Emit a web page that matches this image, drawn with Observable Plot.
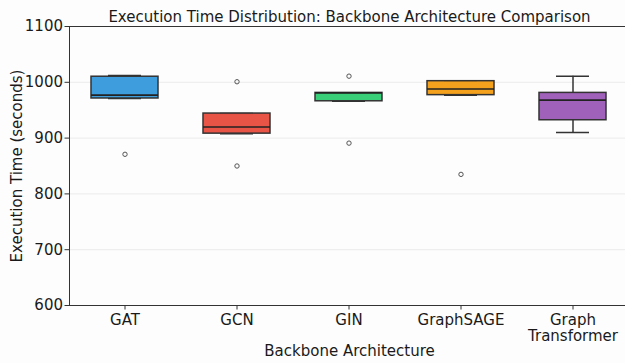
<!DOCTYPE html>
<html>
<head>
<meta charset="utf-8">
<script src="https://cdn.jsdelivr.net/npm/d3@7"></script>
<script src="https://cdn.jsdelivr.net/npm/@observablehq/plot@0.6"></script>
<style>
  html, body { margin: 0; padding: 0; background: #fdfdfd; overflow: hidden; }
  #chart { width: 625px; height: 363px; }
</style>
</head>
<body>
<div id="chart"></div>
<script>
// ---- data ----
const categories = ["GAT", "GCN", "GIN", "GraphSAGE", "Graph Transformer"];
const tickLabels = ["GAT", "GCN", "GIN", "GraphSAGE", "Graph\nTransformer"];
const colors = ["#3498db", "#e74c3c", "#2ecc71", "#f39c12", "#9b59b6"];
const gatTimes = [871, 971, 977, 1010, 1012];
const gcnTimes = [850, 908, 920, 944, 1001];
const ginTimes = [891, 966, 981, 981, 1011];
const graphsageTimes = [835, 977, 988, 1002, 1002];
const graphTransformerTimes = [910, 932, 968, 981, 1011];
const yTicks = [600, 700, 800, 900, 1000, 1100];

const titleText = "Execution Time Distribution: Backbone Architecture Comparison";
const xLabel = "Backbone Architecture";
const yLabel = "Execution Time (seconds)";

// ---- box statistics ----
const series = [gatTimes, gcnTimes, ginTimes, graphsageTimes, graphTransformerTimes];
const stats = [];
const outliers = [];
categories.forEach((name, i) => {
  const v = series[i].slice().sort(d3.ascending);
  const q1 = d3.quantile(v, 0.25), med = d3.quantile(v, 0.5), q3 = d3.quantile(v, 0.75);
  const iqr = q3 - q1;
  const loF = q1 - 1.5 * iqr, hiF = q3 + 1.5 * iqr;
  const inside = v.filter(d => d >= loF && d <= hiF);
  stats.push({name, q1, med, q3, lo: d3.min(inside), hi: d3.max(inside)});
  v.filter(d => d < loF || d > hiF).forEach(d => outliers.push({name, value: d}));
});

const font = "DejaVu Sans, sans-serif";
const edge = "#333333";

const chart = Plot.plot({
  width: 625,
  height: 363,
  marginLeft: 69,
  marginRight: -4,
  marginTop: 26,
  marginBottom: 58,
  style: {fontFamily: font, fontSize: "15px", background: "#fdfdfd", color: "#1a1a1a"},
  x: {type: "band", domain: categories, paddingInner: 0.4, paddingOuter: 0.2, axis: null},
  y: {domain: [600, 1100], axis: null},
  color: {domain: categories, range: colors},
  marks: [
    Plot.ruleY(yTicks.slice(1, -1), {stroke: "#ebebeb", strokeWidth: 1}),
    // whiskers
    Plot.ruleX(stats, {x: "name", y1: "q3", y2: "hi", stroke: edge, strokeWidth: 1.5}),
    Plot.ruleX(stats, {x: "name", y1: "lo", y2: "q1", stroke: edge, strokeWidth: 1.5}),
    Plot.tickY(stats, {x: "name", y: "hi", stroke: edge, strokeWidth: 1.5, insetLeft: 17, insetRight: 17}),
    Plot.tickY(stats, {x: "name", y: "lo", stroke: edge, strokeWidth: 1.5, insetLeft: 17, insetRight: 17}),
    // boxes
    Plot.barY(stats, {x: "name", y1: "q1", y2: "q3", fill: "name", fillOpacity: 0.95, stroke: edge, strokeWidth: 1.5}),
    Plot.tickY(stats, {x: "name", y: "med", stroke: "#222", strokeWidth: 1.6}),
    // outliers
    Plot.dot(outliers, {x: "name", y: "value", r: 2.2, stroke: "#555", strokeWidth: 1, fill: "none"}),
    // spines
    Plot.ruleY([600], {stroke: edge, strokeWidth: 1}),
    Plot.ruleY([1100], {stroke: edge, strokeWidth: 1}),
    Plot.frame({anchor: "left", stroke: edge, strokeWidth: 1}),
    // axes
    Plot.axisY(yTicks, {anchor: "left", tickSize: 4.5, tickPadding: 2, label: null, fontSize: 15, stroke: edge,
      tickFormat: d => String(d)}),
    Plot.axisX(categories, {anchor: "bottom", tickSize: 4.5, tickPadding: 3, label: null, fontSize: 15,
      tickFormat: d => tickLabels[categories.indexOf(d)], lineHeight: 1.1, stroke: edge}),
    // axis labels
    Plot.text([xLabel], {frameAnchor: "bottom", text: d => d, dy: 46, fontSize: 15, lineAnchor: "middle"}),
    Plot.text([yLabel], {frameAnchor: "left", text: d => d, dx: -52, rotate: -90, fontSize: 15,
      lineAnchor: "middle", textAnchor: "middle"}),
    Plot.text([titleText], {frameAnchor: "top", text: d => d, dy: -9, fontSize: 15, lineAnchor: "middle"})
  ]
});
document.getElementById("chart").appendChild(chart);
</script>
</body>
</html>
